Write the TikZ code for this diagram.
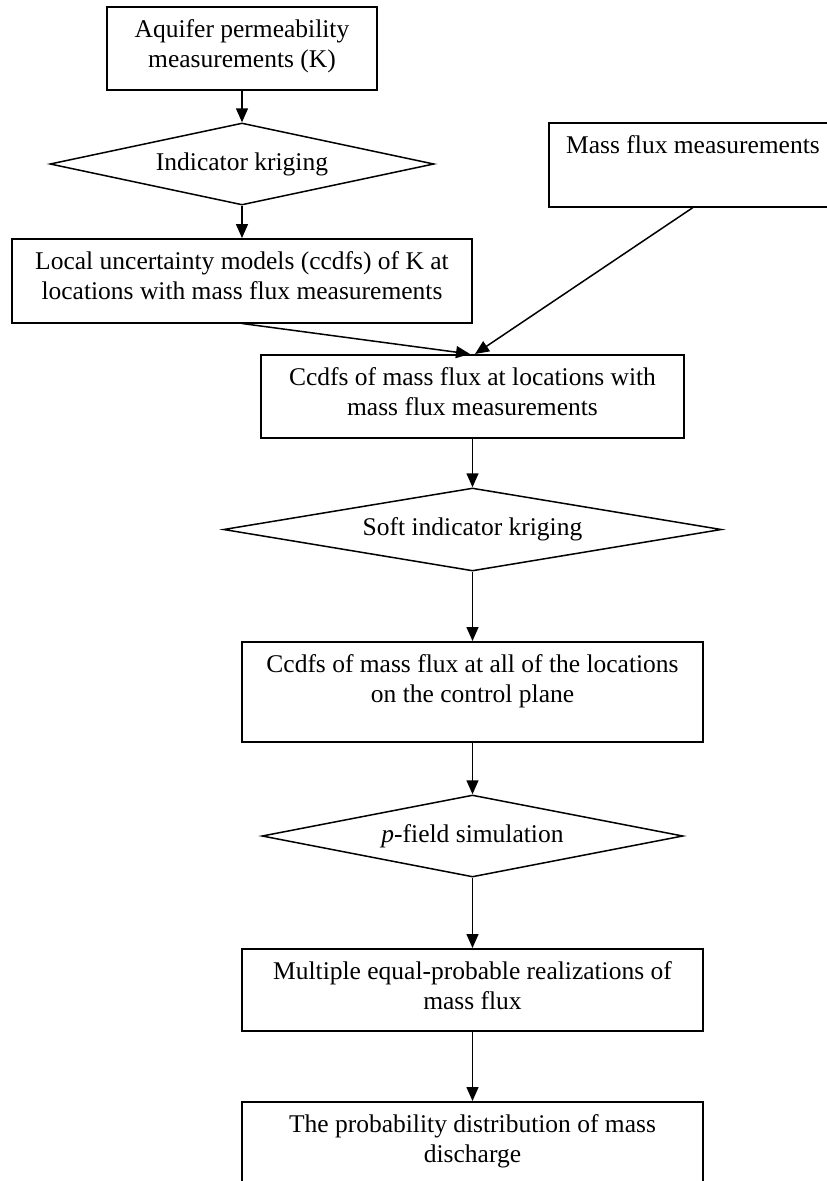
\documentclass[tikz,border=0pt]{standalone}
\usepackage{fontspec}
\setmainfont{Liberation Serif}
\usetikzlibrary{shapes.geometric,arrows.meta}
\newcommand{\bxt}[3]{\parbox[c][#2][t]{#1}{\centering\rule{0pt}{31pt}#3}}
\tikzset{
  flowbox/.style={draw, line width=1.5pt, rectangle, inner sep=0pt, anchor=north,
    font=\fontsize{25.5}{29.5}\selectfont},
  decision/.style={draw, line width=1.5pt, diamond, inner sep=0pt,
    font=\fontsize{25.5}{29.5}\selectfont},
  flowarrow/.style={line width=1.5pt, -{Triangle[width=12pt,length=14pt]}}
}
\begin{document}
\begin{tikzpicture}[x=1pt,y=-1pt]
\useasboundingbox (0,0) rectangle (827,1181);
\clip (0,0) rectangle (827,1181);
\fill[white] (0,0) rectangle (827,1181);

\node[flowbox] (aquifer) at (242,6) {\bxt{270pt}{83pt}{Aquifer permeability\\measurements (K)}};
\node[decision, shape aspect=4.68, minimum width=384pt, minimum height=82pt] (ik) at (242,164) {Indicator kriging};
\node[flowbox] (local) at (242,238) {\bxt{460pt}{84pt}{Local uncertainty models (ccdfs) of K at\\locations with mass flux measurements}};
\node[flowbox] (mfm) at (693,122) {\bxt{288pt}{84pt}{Mass flux measurements}};
\node[flowbox] (ccdfwith) at (472.5,354) {\bxt{423pt}{83pt}{Ccdfs of mass flux at locations with\\mass flux measurements}};
\node[decision, shape aspect=6, minimum width=498pt, minimum height=83pt] (sik) at (472.5,529.5) {Soft indicator kriging};
\node[flowbox] (ccdfall) at (472.5,641) {\bxt{461pt}{100pt}{Ccdfs of mass flux at all of the locations\\on the control plane}};
\node[decision, shape aspect=5.13, minimum width=421pt, minimum height=82pt] (pfield) at (472.5,836) {\textit{p}-field simulation};
\node[flowbox] (multi) at (472.5,948) {\bxt{461pt}{82pt}{Multiple equal-probable realizations of\\mass flux}};
\node[flowbox] (prob) at (472.5,1101) {\bxt{461pt}{100pt}{The probability distribution of mass\\discharge}};

\draw[flowarrow] (aquifer.south) -- (ik.north);
\draw[flowarrow] (ik.south) -- (local.north);
\draw[flowarrow] (local.south) -- ([xshift=-2.5pt]ccdfwith.north);
\draw[flowarrow] (mfm.south) -- ([xshift=2.5pt]ccdfwith.north);
\draw[flowarrow] (ccdfwith.south) -- (sik.north);
\draw[flowarrow] (sik.south) -- (ccdfall.north);
\draw[flowarrow] (ccdfall.south) -- (pfield.north);
\draw[flowarrow] (pfield.south) -- (multi.north);
\draw[flowarrow] (multi.south) -- (prob.north);
\end{tikzpicture}
\end{document}
